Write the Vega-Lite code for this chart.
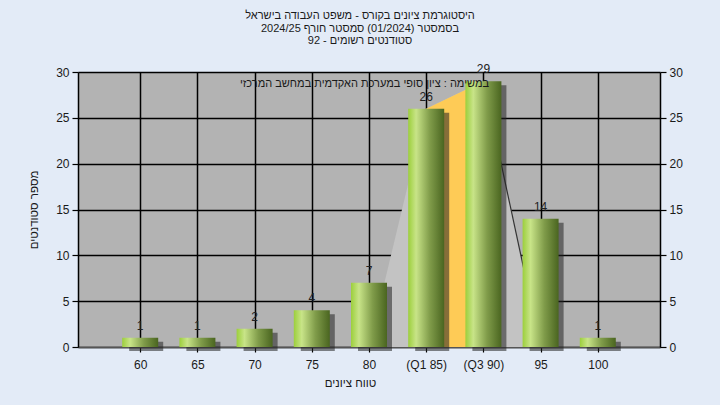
{
  "$schema": "https://vega.github.io/schema/vega-lite/v6.json",
  "width": 582,
  "height": 275,
  "autosize": {"type": "none"},
  "padding": {"left": 78, "top": 72, "right": 60, "bottom": 58},
  "background": "#e3ebf7",
  "config": {
    "font": "Liberation Sans",
    "view": {"stroke": null, "fill": "#b3b3b3"},
    "axis": {
      "labelFont": "Liberation Sans",
      "titleFont": "Liberation Sans",
      "labelFontSize": 12,
      "titleFontSize": 11.5,
      "titleFontWeight": "normal",
      "labelColor": "#1a1a1a",
      "titleColor": "#1a1a1a",
      "tickColor": "#000000",
      "domainColor": "#000000",
      "domainWidth": 1.5,
      "tickWidth": 1.2,
      "gridColor": "#000000",
      "gridWidth": 1.5,
      "gridOpacity": 1
    }
  },
  "title": {
    "text": ["היסטוגרמת ציונים בקורס - משפט העבודה בישראל", "בסמסטר  (01/2024)  סמסטר חורף 2024/25", "סטודנטים רשומים - 92"],
    "font": "Liberation Sans",
    "fontSize": 11,
    "fontWeight": "normal",
    "color": "#1a1a1a",
    "lineHeight": 12.5,
    "anchor": "middle",
    "dx": -9,
    "offset": 17
  },
  "datasets": {
    "bars": [
      {"grade": 60, "count": 1},
      {"grade": 65, "count": 1},
      {"grade": 70, "count": 2},
      {"grade": 75, "count": 4},
      {"grade": 80, "count": 7},
      {"grade": 85, "count": 26},
      {"grade": 90, "count": 29},
      {"grade": 95, "count": 14},
      {"grade": 100, "count": 1}
    ],
    "spread": [
      {"grade": 80, "count": 0},
      {"grade": 85, "count": 26},
      {"grade": 90, "count": 29},
      {"grade": 95, "count": 0}
    ],
    "iqr": [
      {"grade": 85, "count": 26},
      {"grade": 90, "count": 29}
    ],
    "edge": [
      {"grade": 90, "count": 29},
      {"grade": 95, "count": 0}
    ],
    "note": [
      {"grade": 90.5, "count": 28.7, "text": "במשימה : ציון סופי במערכת האקדמית במחשב המרכזי"}
    ]
  },
  "layer": [
    {
      "data": {"name": "spread"},
      "mark": {"type": "area", "color": "#c3c3c3", "opacity": 1},
      "encoding": {
        "x": {
          "field": "grade", "type": "quantitative",
          "scale": {"domain": [55, 105], "nice": false, "zero": false},
          "axis": {
            "values": [60, 65, 70, 75, 80, 85, 90, 95, 100],
            "labelExpr": "datum.value == 85 ? '(Q1 85)' : datum.value == 90 ? '(Q3 90)' : datum.label",
            "grid": true,
            "tickSize": 5,
            "labelPadding": 7,
            "domainColor": "#555555",
            "title": "טווח ציונים",
            "titlePadding": 7,
            "titleX": 272
          }
        },
        "y": {
          "field": "count", "type": "quantitative",
          "scale": {"domain": [0, 30], "nice": false},
          "axis": {
            "values": [0, 5, 10, 15, 20, 25, 30],
            "grid": true,
            "tickSize": 6,
            "labelPadding": 3,
            "title": "מספר סטודנטים",
            "titlePadding": 16
          }
        }
      }
    },
    {
      "data": {"name": "iqr"},
      "mark": {"type": "area", "color": "#fecb56"},
      "encoding": {
        "x": {"field": "grade", "type": "quantitative"},
        "y": {"field": "count", "type": "quantitative", "axis": null}
      }
    },
    {
      "data": {"name": "edge"},
      "mark": {"type": "line", "color": "#333333", "strokeWidth": 1.2},
      "encoding": {
        "x": {"field": "grade", "type": "quantitative"},
        "y": {"field": "count", "type": "quantitative", "axis": null}
      }
    },
    {
      "data": {"name": "bars"},
      "mark": {"type": "bar", "width": 34, "color": "#222222", "opacity": 0.55, "xOffset": 6, "yOffset": 4},
      "encoding": {
        "x": {"field": "grade", "type": "quantitative"},
        "y": {"field": "count", "type": "quantitative", "axis": null}
      }
    },
    {
      "data": {"name": "bars"},
      "mark": {
        "type": "bar", "width": 36,
        "color": {
          "gradient": "linear", "x1": 0, "y1": 0, "x2": 1, "y2": 0,
          "stops": [
            {"offset": 0, "color": "#9ccf3c"},
            {"offset": 0.22, "color": "#c8e488"},
            {"offset": 0.6, "color": "#809c4a"},
            {"offset": 1, "color": "#4a6520"}
          ]
        }
      },
      "encoding": {
        "x": {"field": "grade", "type": "quantitative"},
        "y": {"field": "count", "type": "quantitative", "axis": null}
      }
    },
    {
      "data": {"name": "bars"},
      "mark": {"type": "text", "baseline": "bottom", "dy": -5, "fontSize": 12, "color": "#222222"},
      "encoding": {
        "x": {"field": "grade", "type": "quantitative"},
        "y": {"field": "count", "type": "quantitative", "axis": {"orient": "right", "values": [0, 5, 10, 15, 20, 25, 30], "grid": false, "tickSize": 6, "labelPadding": 3, "title": null}},
        "text": {"field": "count", "type": "quantitative"}
      }
    },
    {
      "data": {"name": "note"},
      "mark": {"type": "text", "align": "right", "baseline": "middle", "fontSize": 11, "color": "#1a1a1a"},
      "encoding": {
        "x": {"field": "grade", "type": "quantitative"},
        "y": {"field": "count", "type": "quantitative", "axis": null},
        "text": {"field": "text"}
      }
    }
  ],
  "resolve": {"axis": {"y": "independent"}}
}
